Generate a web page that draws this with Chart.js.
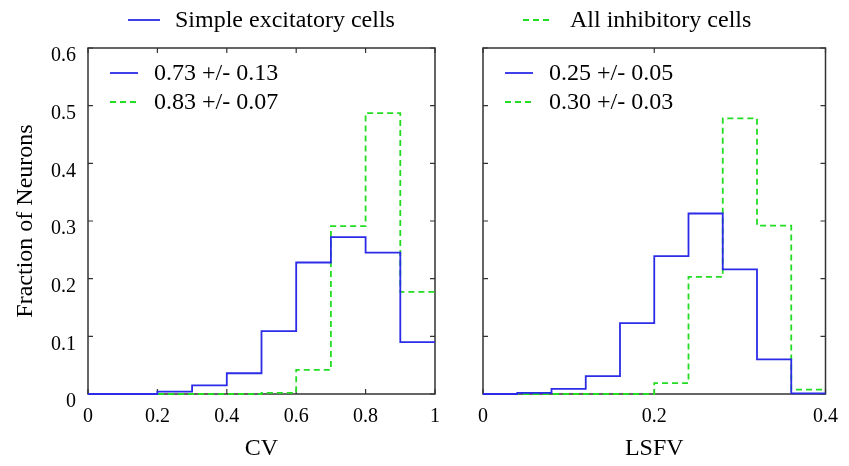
<!DOCTYPE html>
<html><head><meta charset="utf-8">
<script src="https://cdn.jsdelivr.net/npm/chart.js@4.4.1/dist/chart.umd.min.js"></script>
<style>
html,body{margin:0;padding:0;background:#fff;}
#wrap{position:relative;width:849px;height:466px;overflow:hidden;}
#c1{position:absolute;left:0;top:0;}
#c2{position:absolute;left:460px;top:0;}
</style></head><body>
<div id="wrap"><canvas id="c1" width="460" height="466"></canvas><canvas id="c2" width="389" height="466"></canvas></div>
<script>
// ---------- data ----------
const seriesNames = ['Simple excitatory cells', 'All inhibitory cells'];

const cvBinEdges = [0, 0.1, 0.2, 0.3, 0.4, 0.5, 0.6, 0.7, 0.8, 0.9, 1.0];
const cvExcitatory = [0, 0, 0.004, 0.015, 0.036, 0.109, 0.228, 0.272, 0.245, 0.090];
const cvInhibitory = [0, 0, 0, 0, 0, 0.002, 0.042, 0.291, 0.487, 0.177];
const cvStats = ['0.73 +/- 0.13', '0.83 +/- 0.07'];
const cvTicks = [0, 0.2, 0.4, 0.6, 0.8, 1];
const cvTickLabels = ['0', '0.2', '0.4', '0.6', '0.8', '1'];

const lsfvBinEdges = [0, 0.04, 0.08, 0.12, 0.16, 0.20, 0.24, 0.28, 0.32, 0.36, 0.40];
const lsfvExcitatory = [0, 0.002, 0.009, 0.031, 0.123, 0.239, 0.313, 0.216, 0.060, 0.001];
const lsfvInhibitory = [0, 0, 0, 0, 0, 0.019, 0.203, 0.478, 0.292, 0.0075];
const lsfvStats = ['0.25 +/- 0.05', '0.30 +/- 0.03'];
const lsfvTicks = [0, 0.2, 0.4];
const lsfvTickLabels = ['0', '0.2', '0.4'];

const yTicks = [0, 0.1, 0.2, 0.3, 0.4, 0.5, 0.6];
const yTickLabels = ['0', '0.1', '0.2', '0.3', '0.4', '0.5', '0.6'];

// ---------- style ----------
const BLUE = '#2b2be8';
const GREEN = '#22dd22';
const DASH = [6, 4];
const FONT = "'Liberation Serif', 'Times New Roman', serif";
const AXIS = '#333';

function histPoints(edges, vals) {
  const pts = vals.map((v, i) => ({x: edges[i], y: v}));
  pts.push({x: edges[edges.length - 1], y: vals[vals.length - 1]});
  return pts;
}

function makeDeco(cfg) {
  return {
    id: 'deco' + cfg.name,
    beforeDatasetsDraw(chart) {
      const {ctx, chartArea: a, scales} = chart;
      ctx.save();
      ctx.strokeStyle = AXIS;
      ctx.lineWidth = 1.5;
      ctx.strokeRect(a.left, a.top, a.right - a.left, a.bottom - a.top);
      ctx.lineWidth = 1.2;
      ctx.beginPath();
      const tl = 5;
      cfg.xTicks.forEach(v => {
        const px = scales.x.getPixelForValue(v);
        ctx.moveTo(px, a.bottom); ctx.lineTo(px, a.bottom - tl);
        ctx.moveTo(px, a.top); ctx.lineTo(px, a.top + tl);
      });
      yTicks.forEach(v => {
        const py = scales.y.getPixelForValue(v);
        ctx.moveTo(a.left, py); ctx.lineTo(a.left + tl, py);
        ctx.moveTo(a.right, py); ctx.lineTo(a.right - tl, py);
      });
      ctx.stroke();
      ctx.restore();
    },
    afterDraw(chart) {
      const {ctx, chartArea: a} = chart;
      ctx.save();
      ctx.textBaseline = 'middle';
      ctx.textAlign = 'left';
      ctx.fillStyle = '#000';
      ctx.font = '24px ' + FONT;
      // inner legend
      const colors = [BLUE, GREEN];
      cfg.stats.forEach((s, i) => {
        const y = a.top + 25 + i * 29;
        ctx.strokeStyle = colors[i];
        ctx.lineWidth = 1.8;
        ctx.setLineDash(i === 1 ? DASH : []);
        ctx.beginPath();
        ctx.moveTo(a.left + 22, y); ctx.lineTo(a.left + 50, y);
        ctx.stroke();
        ctx.setLineDash([]);
        ctx.fillText(s, a.left + 66, y + 1);
      });
      // top legend item
      const t = cfg.top;
      ctx.strokeStyle = colors[t.index];
      ctx.lineWidth = 1.8;
      ctx.setLineDash(t.index === 1 ? DASH : []);
      ctx.beginPath();
      ctx.moveTo(t.x0, 20); ctx.lineTo(t.x1, 20);
      ctx.stroke();
      ctx.setLineDash([]);
      ctx.fillText(seriesNames[t.index], t.tx, 21);
      ctx.restore();
    }
  };
}

function makeChart(canvas, o) {
  return new Chart(canvas, {
    type: 'line',
    data: {
      datasets: [
        {label: seriesNames[0], data: histPoints(o.edges, o.exc), stepped: true, clip: 3,
         borderColor: BLUE, borderWidth: 1.8, pointRadius: 0, fill: false},
        {label: seriesNames[1], data: histPoints(o.edges, o.inh), stepped: true, clip: 3,
         borderColor: GREEN, borderWidth: 1.8, borderDash: DASH, pointRadius: 0, fill: false}
      ]
    },
    options: {
      responsive: false,
      animation: false,
      events: [],
      layout: {padding: {top: 48, right: o.padRight, left: 0, bottom: 3}},
      plugins: {legend: {display: false}, tooltip: {enabled: false}},
      scales: {
        x: {
          type: 'linear', min: 0, max: o.xMax,
          grid: {display: false, drawTicks: false},
          border: {display: false},
          afterBuildTicks: s => { s.ticks = o.xTicks.map(v => ({value: v})); },
          ticks: {
            font: {family: FONT, size: 20}, color: '#000', padding: 11,
            maxRotation: 0, autoSkip: false,
            callback: (v, i) => o.xTickLabels[i]
          },
          title: {display: true, text: o.xTitle, font: {family: FONT, size: 24}, color: '#000',
                  padding: {top: 0, bottom: 0}},
          afterFit: s => { s.height = 69; }
        },
        y: {
          min: 0, max: 0.6,
          grid: {display: false, drawTicks: false},
          border: {display: false},
          afterBuildTicks: s => { s.ticks = yTicks.map(v => ({value: v})); },
          ticks: {
            display: o.showY, font: {family: FONT, size: 20}, color: '#000',
            padding: 12, labelOffset: 8, autoSkip: false,
            callback: (v, i) => yTickLabels[i]
          },
          title: {display: o.showY, text: 'Fraction of Neurons', font: {family: FONT, size: 24},
                  color: '#000', padding: {top: 11, bottom: 0}},
          afterFit: s => { s.width = o.yWidth; }
        }
      }
    },
    plugins: [makeDeco({name: o.name, xTicks: o.xTicks, stats: o.stats, top: o.top})]
  });
}

makeChart(document.getElementById('c1'), {
  name: 'cv', edges: cvBinEdges, exc: cvExcitatory, inh: cvInhibitory,
  xMax: 1, xTicks: cvTicks, xTickLabels: cvTickLabels, xTitle: 'CV',
  stats: cvStats, showY: true, yWidth: 88, padRight: 25,
  top: {index: 0, x0: 128, x1: 160, tx: 175}
});
makeChart(document.getElementById('c2'), {
  name: 'lsfv', edges: lsfvBinEdges, exc: lsfvExcitatory, inh: lsfvInhibitory,
  xMax: 0.4, xTicks: lsfvTicks, xTickLabels: lsfvTickLabels, xTitle: 'LSFV',
  stats: lsfvStats, showY: false, yWidth: 23, padRight: 19,
  top: {index: 1, x0: 63, x1: 92, tx: 110}
});
</script>
</body></html>
